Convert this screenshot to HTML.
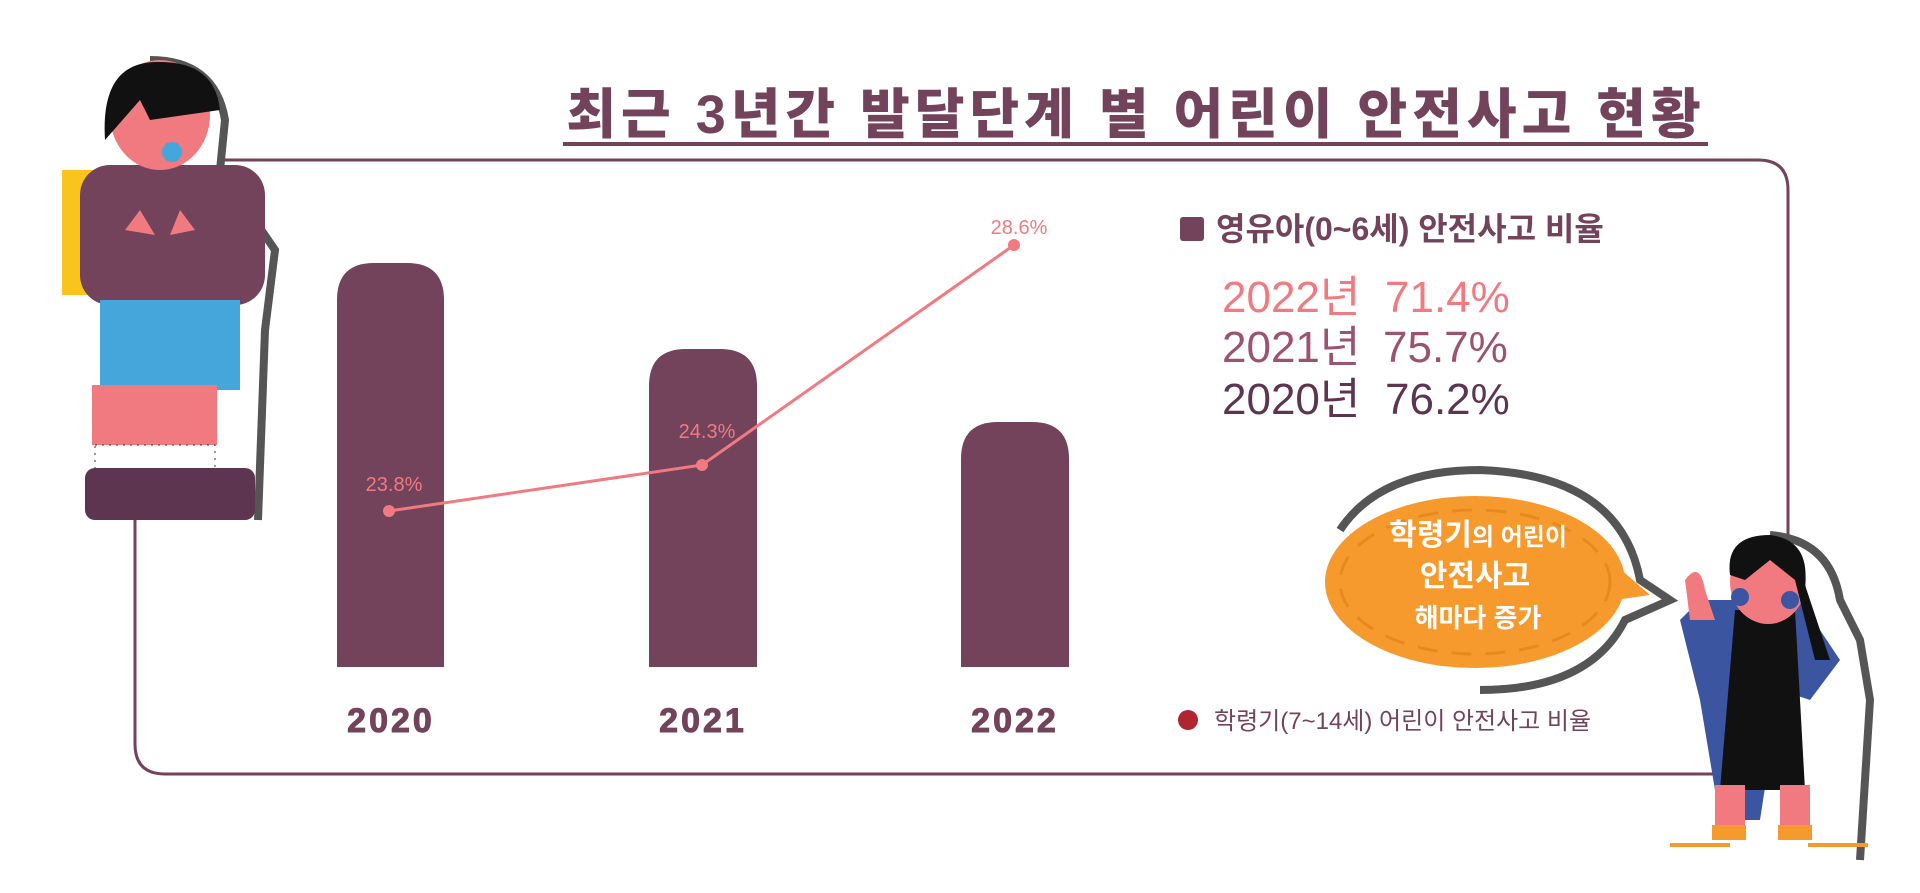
<!DOCTYPE html>
<html><head><meta charset="utf-8"><style>
body{margin:0;width:1920px;height:888px;background:#fff;overflow:hidden;font-family:"Liberation Sans","Noto Sans CJK KR",sans-serif}
</style></head><body>
<svg width="1920" height="888" viewBox="0 0 1920 888" xmlns="http://www.w3.org/2000/svg" font-family="Liberation Sans, Noto Sans CJK KR, sans-serif">
<!-- title -->
<text x="1136" y="133" text-anchor="middle" font-size="54" font-weight="900" fill="#72435b" letter-spacing="5">최근 3년간 발달단계 별 어린이 안전사고 현황</text>
<rect x="563" y="142" width="1145" height="4" fill="#72435b"/>
<!-- frame -->
<path d="M220 160 H1758 Q1788 160 1788 190 V774 H165 Q135 774 135 744 V520" fill="none" stroke="#72435b" stroke-width="3"/>
<!-- bars -->
<path d="M337 667 V300 Q337 263 374 263 H407 Q444 263 444 300 V667Z" fill="#72435b"/>
<path d="M649 667 V386 Q649 349 686 349 H720 Q757 349 757 386 V667Z" fill="#72435b"/>
<path d="M961 667 V459 Q961 422 998 422 H1032 Q1069 422 1069 459 V667Z" fill="#72435b"/>
<!-- line -->
<polyline points="389,511 702,465 1014,245" fill="none" stroke="#f07a80" stroke-width="3"/>
<circle cx="389" cy="511" r="6" fill="#f07a80"/><circle cx="702" cy="465" r="6" fill="#f07a80"/><circle cx="1014" cy="245" r="6" fill="#f07a80"/>
<g font-size="20" fill="#f07a80" text-anchor="middle">
<text x="394" y="491">23.8%</text><text x="707" y="438">24.3%</text><text x="1019" y="234">28.6%</text></g>
<g font-size="34" font-weight="900" fill="#72435b" text-anchor="middle" letter-spacing="3" stroke="#72435b" stroke-width="1">
<text x="391" y="732">2020</text><text x="703" y="732">2021</text><text x="1015" y="732">2022</text></g>
<!-- legend -->
<rect x="1180" y="217" width="24" height="24" rx="3" fill="#72435b"/>
<text x="1216" y="240" font-size="32" font-weight="bold" fill="#72435b">영유아(0~6세) 안전사고 비율</text>
<g font-size="44">
<text x="1222" y="312" fill="#f07a80">2022년</text><text x="1385" y="312" fill="#f07a80">71.4%</text>
<text x="1222" y="362" fill="#9b5371">2021년</text><text x="1383" y="362" fill="#9b5371">75.7%</text>
<text x="1222" y="414" fill="#5e3550">2020년</text><text x="1385" y="414" fill="#5e3550">76.2%</text></g>
<circle cx="1188" cy="720" r="10" fill="#b0252f"/>
<text x="1214" y="729" font-size="24" fill="#72435b">학령기(7~14세) 어린이 안전사고 비율</text>
<!-- speech bubble -->
<path d="M1340 530 Q1380 470 1480 470 Q1620 475 1640 580 L1670 600 L1625 620 Q1590 690 1480 690" fill="none" stroke="#555" stroke-width="8"/>
<ellipse cx="1475" cy="582" rx="150" ry="86" fill="#f79a2e"/>
<path d="M1610 560 L1650 595 L1615 600Z" fill="#f79a2e"/>
<ellipse cx="1475" cy="582" rx="135" ry="72" fill="none" stroke="#e68a20" stroke-width="3" stroke-dasharray="20 14"/>
<g fill="#fff" font-weight="bold" text-anchor="middle">
<text x="1478" y="545" font-size="30">학령기<tspan font-size="24">의 어린이</tspan></text>
<text x="1475" y="586" font-size="30">안전사고</text>
<text x="1478" y="627" font-size="26">해마다 증가</text></g>
<!-- left kid -->
<g>
<path d="M150 60 Q215 60 225 120 L220 170 L275 250 L265 330 L258 520" fill="none" stroke="#555" stroke-width="8"/>
<rect x="62" y="170" width="50" height="125" fill="#f9c41b"/>
<rect x="80" y="165" width="185" height="140" rx="30" fill="#72435b"/>
<rect x="100" y="300" width="140" height="90" fill="#45a6db"/>
<rect x="92" y="385" width="125" height="60" fill="#f07a80"/>
<rect x="95" y="445" width="120" height="25" fill="#fff" stroke="#333" stroke-dasharray="2 5"/>
<rect x="85" y="468" width="170" height="52" rx="10" fill="#5e3550"/>
<ellipse cx="160" cy="115" rx="50" ry="55" fill="#f07a80"/>
<path d="M105 140 Q100 60 160 62 Q215 62 220 110 L150 120 L140 100 Z" fill="#111"/>
<circle cx="172" cy="152" r="10" fill="#45a6db"/>
<path d="M140 210 L155 235 L125 230Z M180 210 L195 230 L170 235Z" fill="#f07a80"/>
</g>
<!-- right girl -->
<g>
<path d="M1770 535 Q1830 540 1840 600 L1860 640 L1870 700 L1860 860" fill="none" stroke="#555" stroke-width="8"/>
<path d="M1680 620 L1700 600 L1800 600 L1840 660 L1810 700 L1780 690 L1760 820 L1720 820 L1700 700Z" fill="#3c55a0"/>
<path d="M1735 610 L1795 610 L1805 790 L1720 790Z" fill="#111"/>
<rect x="1715" y="785" width="30" height="45" fill="#f07a80"/><rect x="1780" y="785" width="30" height="45" fill="#f07a80"/>
<rect x="1712" y="825" width="34" height="15" fill="#f79a2e"/><rect x="1778" y="825" width="34" height="15" fill="#f79a2e"/>
<rect x="1670" y="843" width="60" height="4" fill="#f79a2e"/><rect x="1808" y="843" width="60" height="4" fill="#f79a2e"/>
<ellipse cx="1768" cy="582" rx="38" ry="42" fill="#f07a80"/>
<path d="M1730 575 Q1725 535 1770 535 Q1810 540 1805 585 L1830 660 L1815 660 L1795 580 L1770 560 L1745 580Z" fill="#111"/>
<circle cx="1740" cy="597" r="9" fill="#3c55a0"/><circle cx="1790" cy="600" r="9" fill="#3c55a0"/>
<path d="M1685 580 Q1700 560 1705 590 L1715 620 L1690 620Z" fill="#f07a80"/>
</g>
</svg>
</body></html>
